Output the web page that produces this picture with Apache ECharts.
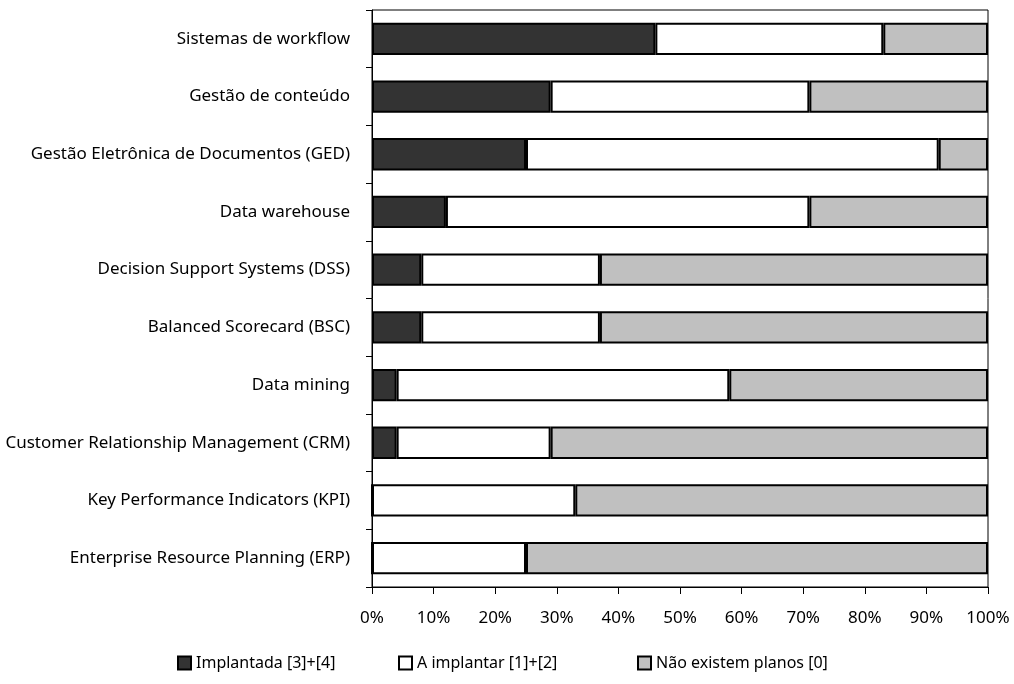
<!DOCTYPE html>
<html>
<head>
<meta charset="utf-8">
<script src="https://cdn.jsdelivr.net/npm/echarts@6/dist/echarts.min.js"></script>
<style>
  html, body { margin: 0; padding: 0; background: #fff; }
  #chart { width: 1014px; height: 684px; }
</style>
</head>
<body>
<div id="chart"></div>
<script>
// categories, top to bottom
const categories = [
  'Sistemas de workflow',
  'Gestão de conteúdo',
  'Gestão Eletrônica de Documentos (GED)',
  'Data warehouse',
  'Decision Support Systems (DSS)',
  'Balanced Scorecard (BSC)',
  'Data mining',
  'Customer Relationship Management (CRM)',
  'Key Performance Indicators (KPI)',
  'Enterprise Resource Planning (ERP)'
];

// percentages per category
const implantada = [46, 29, 25, 12, 8, 8, 4, 4, 0, 0];
const aImplantar = [37, 42, 67, 59, 29, 29, 54, 25, 33, 25];
const naoExistem = [17, 29, 8, 29, 63, 63, 42, 71, 67, 75];

const seriesNames = ['Implantada [3]+[4]', 'A implantar [1]+[2]', 'Não existem planos [0]'];
const seriesColors = ['#333333', '#ffffff', '#c0c0c0'];
const legendLeft = [177, 398, 637];

const FONT = '"Noto Sans", sans-serif';

const chart = echarts.init(document.getElementById('chart'));

const series = [implantada, aImplantar, naoExistem].map((values, i) => ({
  name: seriesNames[i],
  type: 'bar',
  stack: 'total',
  barWidth: '56%',
  data: values,
  itemStyle: { color: seriesColors[i], borderColor: '#000', borderWidth: 2 },
  emphasis: { disabled: true }
}));

// one legend per item so each can sit where the reference puts it
const legends = seriesNames.map((name, i) => ({
  left: legendLeft[i],
  top: 655,
  padding: 0,
  itemWidth: 13,
  itemHeight: 13,
  icon: 'rect',
  selectedMode: false,
  textStyle: { fontFamily: FONT, fontSize: 16, color: '#000' },
  data: [name]
}));

chart.setOption({
  animation: false,
  textStyle: { fontFamily: FONT },
  grid: {
    left: 372, right: 26, top: 10, bottom: 97,
    show: true, borderColor: '#000', borderWidth: 1, backgroundColor: 'transparent'
  },
  legend: legends,
  xAxis: {
    type: 'value',
    min: 0,
    max: 100,
    interval: 10,
    axisLine: { show: true, lineStyle: { color: '#000', width: 1 } },
    axisTick: { show: true, length: 7, lineStyle: { color: '#000' } },
    axisLabel: { formatter: '{value}%', color: '#000', fontSize: 17, fontFamily: FONT, margin: 23 },
    splitLine: { show: false }
  },
  yAxis: {
    type: 'category',
    inverse: true,
    data: categories,
    axisLine: { show: true, lineStyle: { color: '#000', width: 1 } },
    axisTick: { show: true, length: 6, lineStyle: { color: '#000' } },
    axisLabel: { color: '#000', fontSize: 17, fontFamily: FONT, margin: 22 }
  },
  series: series
});
</script>
</body>
</html>
